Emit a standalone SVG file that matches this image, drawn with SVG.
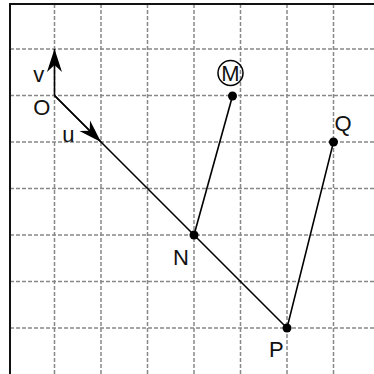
<svg xmlns="http://www.w3.org/2000/svg" width="374" height="374" viewBox="0 0 374 374">
<style>
.grid{stroke:#888;stroke-width:1.5;stroke-dasharray:4 2;fill:none}
.frame{stroke:#111;stroke-width:2;fill:none}
.seg{stroke:#000;stroke-width:1.6;fill:none}
.dot{fill:#000}
.lbl{font-family:"Liberation Sans",Arial,sans-serif;font-size:22px;fill:#111;text-anchor:middle}
</style>
<defs>
<marker id="arr" viewBox="-25 -9 26 18" markerWidth="26" markerHeight="18" refX="0" refY="0" orient="auto" markerUnits="userSpaceOnUse">
<path d="M0,0 Q-9,-3 -23,-7.5 L-16,0 L-23,7.5 Q-9,3 0,0 Z" fill="#000"/>
</marker>
</defs>
<rect width="374" height="374" fill="#fff"/>
<g id="grid" class="grid">
<path d="M54.5,4V374M101,4V374M147.5,4V374M194,4V374M240.5,4V374M287,4V374M333.5,4V374"/>
<path d="M10,49H374M10,95.5H374M10,142H374M10,188.5H374M10,235H374M10,281.5H374M10,328H374"/>
</g>
<path class="frame" d="M10,374V4H374"/>
<g id="connectors">
<path class="seg" d="M54.5,95.5L287,328"/>
<path class="seg" d="M54.5,95.5L101,142" marker-end="url(#arr)"/>
<path class="seg" d="M54.5,95.5L54.5,49" marker-end="url(#arr)"/>
<path class="seg" d="M232.5,96L194,235"/>
<path class="seg" d="M333.5,142L287,328"/>
</g>
<g id="O"><text class="lbl" x="41.7" y="115">O</text></g>
<g id="v"><text class="lbl" x="38.7" y="82">v</text></g>
<g id="u"><text class="lbl" x="68.3" y="142">u</text></g>
<g id="M"><circle class="dot" cx="232.5" cy="96" r="4.5"/><circle cx="230.5" cy="73" r="12.5" fill="none" stroke="#000" stroke-width="1.5"/><text class="lbl" x="230.5" y="80.8">M</text></g>
<g id="Q"><circle class="dot" cx="333.5" cy="142" r="4.5"/><text class="lbl" x="343" y="130.5">Q</text></g>
<g id="N"><circle class="dot" cx="194" cy="235" r="4.5"/><text class="lbl" x="181" y="264.5">N</text></g>
<g id="P"><circle class="dot" cx="287" cy="328" r="4.5"/><text class="lbl" x="276.3" y="357">P</text></g>
</svg>
